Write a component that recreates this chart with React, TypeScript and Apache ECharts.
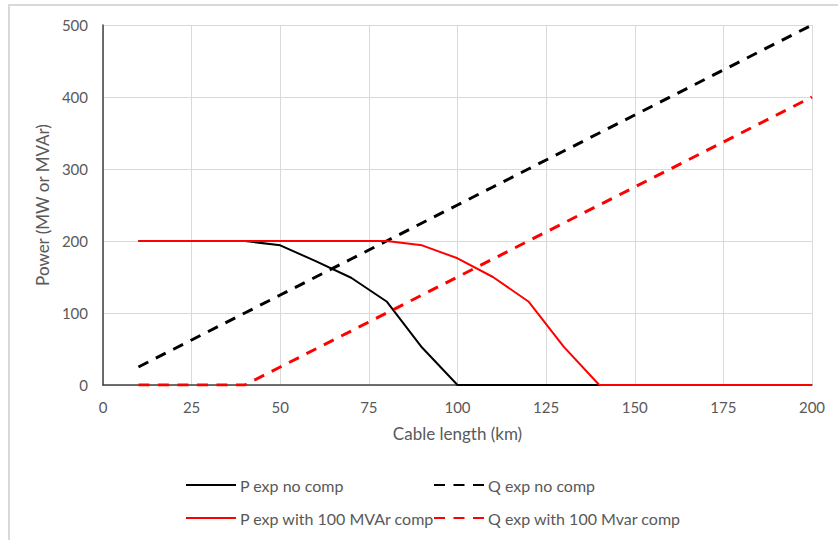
import React, { useEffect, useRef } from "react";
import * as echarts from "echarts";

const cableLength = [10, 20, 30, 40, 50, 60, 70, 80, 90, 100, 110, 120, 130, 140, 150, 160, 170, 180, 190, 200];
const pExpNoComp = [200, 200, 200, 200, 194, 172, 149, 116, 52, 0, 0, 0, 0, 0, 0, 0, 0, 0, 0, 0];
const qExpNoComp = [25, 50, 75, 100, 125, 150, 175, 200, 225, 250, 275, 300, 325, 350, 375, 400, 425, 450, 475, 500];
const pExpWithComp = [200, 200, 200, 200, 200, 200, 200, 200, 194, 176, 150, 116, 53, 0, 0, 0, 0, 0, 0, 0];
const qExpWithComp = [0, 0, 0, 0, 25, 50, 75, 100, 125, 150, 175, 200, 225, 250, 275, 300, 325, 350, 375, 400];

const seriesNames = [
  "P exp no comp",
  "Q exp no comp",
  "P exp with 100 MVAr comp",
  "Q exp with 100 Mvar comp",
];

const FONT = "Lato";
const GREY = "#595959";

export default function App() {
  const ref = useRef<HTMLDivElement>(null);
  useEffect(() => {
    if (!ref.current) return;
    const chart = echarts.init(ref.current, undefined, { renderer: "svg" });
    const toPairs = (arr: number[]) => cableLength.map((x, i) => [x, arr[i]]);
    const mk = (name: string, arr: number[], color: string, dashed: boolean) => ({
      name,
      type: "line",
      data: toPairs(arr),
      symbol: "none",
      showSymbol: false,
      lineStyle: dashed
        ? { color, width: 3, type: [11, 8.5], cap: "butt" }
        : { color, width: 2 },
      itemStyle: { color },
    });
    const legendBase = {
      orient: "horizontal",
      padding: 0,
      itemWidth: 50,
      itemHeight: 16,
      itemGap: 0,
      selectedMode: false,
      itemStyle: { opacity: 0 },
      textStyle: { fontFamily: FONT, fontSize: 16, color: GREY, lineHeight: 16, padding: [0, 0, 0, -1] },
    };
    chart.setOption({
      animation: false,
      backgroundColor: "#ffffff",
      grid: { left: 103, right: 26, top: 25, bottom: 155, containLabel: false },
      xAxis: {
        type: "value",
        min: 0,
        max: 200,
        interval: 25,
        name: "Cable length (km)",
        nameLocation: "middle",
        nameGap: 40,
        nameTextStyle: { fontFamily: FONT, fontSize: 17, color: GREY },
        axisLine: { show: true, lineStyle: { color: "#404040", width: 1.5 } },
        axisTick: { show: false },
        axisLabel: { fontFamily: FONT, fontSize: 15, color: GREY, margin: 14 },
        splitLine: { show: true, lineStyle: { color: "#d9d9d9", width: 1 } },
      },
      yAxis: {
        type: "value",
        min: 0,
        max: 500,
        interval: 100,
        name: "Power (MW or MVAr)",
        nameLocation: "middle",
        nameGap: 48,
        nameTextStyle: { fontFamily: FONT, fontSize: 17, color: GREY },
        axisLine: { show: true, lineStyle: { color: "#404040", width: 1.5 } },
        axisTick: { show: false },
        axisLabel: { fontFamily: FONT, fontSize: 15, color: GREY, margin: 15 },
        splitLine: { show: true, lineStyle: { color: "#d9d9d9", width: 1 } },
      },
      legend: [
        { ...legendBase, data: [seriesNames[0]], left: 185, top: 477 },
        { ...legendBase, data: [seriesNames[1]], left: 433, top: 477 },
        { ...legendBase, data: [seriesNames[2]], left: 185, top: 510 },
        { ...legendBase, data: [seriesNames[3]], left: 433, top: 510 },
      ],
      graphic: [
        { type: "line", shape: { x1: 8, y1: 5, x2: 838, y2: 5 }, style: { stroke: "#d9d9d9", lineWidth: 2 } },
        { type: "line", shape: { x1: 9, y1: 5, x2: 9, y2: 540 }, style: { stroke: "#d9d9d9", lineWidth: 2 } },
      ],
      series: [
        mk(seriesNames[0], pExpNoComp, "#000000", false),
        mk(seriesNames[1], qExpNoComp, "#000000", true),
        mk(seriesNames[2], pExpWithComp, "#ff0000", false),
        mk(seriesNames[3], qExpWithComp, "#ff0000", true),
      ],
    });
    return () => chart.dispose();
  }, []);
  return (
    <div
      ref={ref}
      style={{ position: "fixed", left: 0, top: 0, width: 838, height: 540 }}
    />
  );
}
